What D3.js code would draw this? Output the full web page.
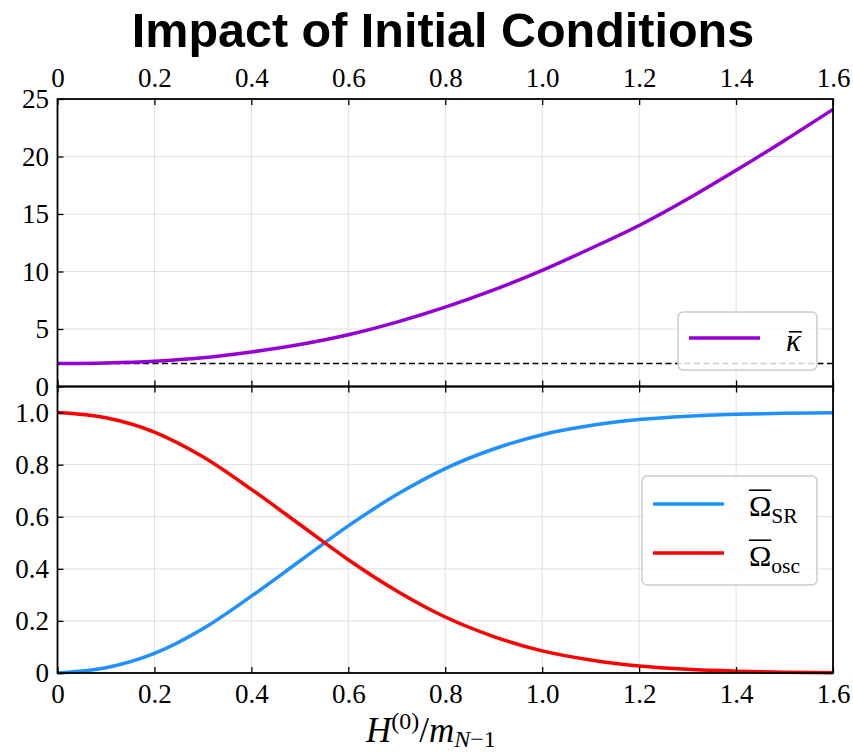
<!DOCTYPE html>
<html>
<head>
<meta charset="utf-8">
<script src="https://cdn.jsdelivr.net/npm/d3@7/dist/d3.min.js"></script>
<style>
  html, body { margin: 0; padding: 0; background: #fff; }
  svg { display: block; }
</style>
</head>
<body>
<svg id="chart" width="853" height="753"></svg>
<script>
// Initial Hubble rate in units of m_{N-1}
const H_VALUES = [0.0, 0.1, 0.2, 0.3, 0.4, 0.5, 0.6, 0.7, 0.8, 0.9, 1.0, 1.1, 1.2, 1.3, 1.4, 1.5, 1.6];
// Mean kappa parameter
const KAPPA = [2.0, 2.05, 2.2, 2.5, 3.0, 3.65, 4.5, 5.6, 6.9, 8.4, 10.1, 12.0, 14.0, 16.3, 18.8, 21.4, 24.1];
// Slow-roll and oscillating energy fractions
const OMEGA_SR = [0.0, 0.02, 0.075, 0.17, 0.295, 0.43, 0.565, 0.685, 0.785, 0.86, 0.915, 0.95, 0.973, 0.986, 0.993, 0.997, 0.999];
const OMEGA_OSC = [1.0, 0.98, 0.925, 0.83, 0.705, 0.57, 0.435, 0.315, 0.215, 0.14, 0.085, 0.05, 0.027, 0.014, 0.007, 0.003, 0.001];
// Reference level for kappa
const KAPPA_REF = 2;

const X_TICKS = [0, 0.2, 0.4, 0.6, 0.8, 1.0, 1.2, 1.4, 1.6];
const KAPPA_TICKS = [0, 5, 10, 15, 20, 25];
const OMEGA_TICKS = [0, 0.2, 0.4, 0.6, 0.8, 1.0];

const COLORS = { kappa: "#9400D3", sr: "#1E90FF", osc: "#FF0000" };
const SERIF = "'Liberation Serif', 'Times New Roman', serif";

const svg = d3.select("#chart");
svg.append("rect").attr("width", 853).attr("height", 753).attr("fill", "#fff");

const left = 57.5, right = 833;
const topY = 99, midY = 386.5, botY = 673;

const x = d3.scaleLinear().domain([0, 1.6]).range([left, right]);
const yK = d3.scaleLinear().domain([0, 25]).range([midY, topY]);
const yO = d3.scaleLinear().domain([0, 1.1]).range([botY, midY]);

const fmtDec = d => d === 0 ? "0" : d3.format(".1f")(d);
const fmtInt = d => d3.format("d")(d);

// Title
svg.append("text")
  .attr("x", 443).attr("y", 47)
  .attr("text-anchor", "middle")
  .style("font-family", "'Liberation Sans', Arial, sans-serif")
  .style("font-weight", "bold")
  .style("font-size", "48.5px")
  .text("Impact of Initial Conditions");

function grid(g, yScale, yTicks, y0, y1) {
  g.selectAll("line.gx").data(X_TICKS).join("line")
    .attr("x1", d => x(d)).attr("x2", d => x(d))
    .attr("y1", y0).attr("y2", y1)
    .attr("stroke", "#e0e0e0").attr("stroke-width", 1);
  g.selectAll("line.gy").data(yTicks).join("line")
    .attr("x1", left).attr("x2", right)
    .attr("y1", d => yScale(d)).attr("y2", d => yScale(d))
    .attr("stroke", "#e0e0e0").attr("stroke-width", 1);
}

grid(svg.append("g"), yK, KAPPA_TICKS, topY, midY);
grid(svg.append("g"), yO, OMEGA_TICKS, midY, botY);

// Reference dashed line
svg.append("line")
  .attr("x1", x(0)).attr("x2", x(1.6))
  .attr("y1", yK(KAPPA_REF)).attr("y2", yK(KAPPA_REF))
  .attr("stroke", "#000").attr("stroke-width", 1.5)
  .attr("stroke-dasharray", "6,3.5");

const line = (ys, yScale) => d3.line()
  .x((d, i) => x(H_VALUES[i]))
  .y(d => yScale(d))
  .curve(d3.curveMonotoneX)(ys);

svg.append("path").attr("d", line(KAPPA, yK))
  .attr("fill", "none").attr("stroke", COLORS.kappa).attr("stroke-width", 3.5);
svg.append("path").attr("d", line(OMEGA_SR, yO))
  .attr("fill", "none").attr("stroke", COLORS.sr).attr("stroke-width", 3.5);
svg.append("path").attr("d", line(OMEGA_OSC, yO))
  .attr("fill", "none").attr("stroke", COLORS.osc).attr("stroke-width", 3.5);

// Axes with inward ticks
function axis(gen, tx, ty, labels) {
  const g = svg.append("g").attr("transform", `translate(${tx},${ty})`).call(gen);
  g.select(".domain").remove();
  g.selectAll(".tick line").attr("stroke", "#000").attr("stroke-width", 1.3);
  if (!labels) g.selectAll("text").remove();
  g.selectAll("text")
    .style("font-family", SERIF)
    .style("font-size", "27px")
    .attr("fill", "#000");
  return g;
}

axis(d3.axisTop(x).tickValues(X_TICKS).tickFormat(fmtDec).tickSizeInner(-6).tickSizeOuter(0).tickPadding(12), 0, topY, true);
axis(d3.axisBottom(x).tickValues(X_TICKS).tickSizeInner(-6).tickSizeOuter(0), 0, midY, false);
axis(d3.axisTop(x).tickValues(X_TICKS).tickSizeInner(-6).tickSizeOuter(0), 0, midY, false);
axis(d3.axisBottom(x).tickValues(X_TICKS).tickFormat(fmtDec).tickSizeInner(-6).tickSizeOuter(0).tickPadding(11), 0, botY, true);
axis(d3.axisLeft(yK).tickValues(KAPPA_TICKS).tickFormat(fmtInt).tickSizeInner(-6).tickSizeOuter(0).tickPadding(8.5), left, 0, true);
axis(d3.axisLeft(yO).tickValues(OMEGA_TICKS).tickFormat(fmtDec).tickSizeInner(-6).tickSizeOuter(0).tickPadding(8.5), left, 0, true);

// Spines
svg.append("rect").attr("x", left).attr("y", topY).attr("width", right - left).attr("height", midY - topY)
  .attr("fill", "none").attr("stroke", "#000").attr("stroke-width", 1.8);
svg.append("rect").attr("x", left).attr("y", midY).attr("width", right - left).attr("height", botY - midY)
  .attr("fill", "none").attr("stroke", "#000").attr("stroke-width", 1.8);

// Text with a bar over its first glyph
function barredLabel(g, lx, ly, main, sub, italic, size) {
  const t = g.append("text").attr("x", lx).attr("y", ly)
    .style("font-family", SERIF).style("font-size", size + "px").attr("fill", "#000");
  const m = t.append("tspan").text(main).style("font-style", italic ? "italic" : "normal");
  if (sub) {
    t.append("tspan").text(sub).attr("dy", 7).style("font-size", (size * 0.72) + "px");
  }
  const w = m.node().getComputedTextLength();
  const capTop = ly - size * (italic ? 0.62 : 0.86);
  g.append("line")
    .attr("x1", lx + (italic ? 3 : 0)).attr("x2", lx + w + (italic ? 1 : 0))
    .attr("y1", capTop).attr("y2", capTop)
    .attr("stroke", "#000").attr("stroke-width", 1.6);
}

// Legend: kappa
const lg1 = svg.append("g");
lg1.append("rect").attr("x", 678).attr("y", 312).attr("width", 139).attr("height", 58)
  .attr("rx", 5).attr("fill", "#fff").attr("fill-opacity", 0.8)
  .attr("stroke", "#cccccc").attr("stroke-width", 1.5);
lg1.append("line").attr("x1", 689).attr("x2", 760).attr("y1", 338).attr("y2", 338)
  .attr("stroke", COLORS.kappa).attr("stroke-width", 3.5);
barredLabel(lg1, 786, 351, "κ", null, true, 31);

// Legend: energy fractions
const lg2 = svg.append("g");
lg2.append("rect").attr("x", 642).attr("y", 476).attr("width", 175).attr("height", 109)
  .attr("rx", 5).attr("fill", "#fff").attr("fill-opacity", 0.8)
  .attr("stroke", "#cccccc").attr("stroke-width", 1.5);
lg2.append("line").attr("x1", 653).attr("x2", 724).attr("y1", 504).attr("y2", 504)
  .attr("stroke", COLORS.sr).attr("stroke-width", 3.5);
lg2.append("line").attr("x1", 653).attr("x2", 724).attr("y1", 553).attr("y2", 553)
  .attr("stroke", COLORS.osc).attr("stroke-width", 3.5);
barredLabel(lg2, 749, 516, "Ω", "SR", false, 30);
barredLabel(lg2, 749, 566, "Ω", "osc", false, 30);

// X-axis label: H^(0)/m_{N-1}
const xl = svg.append("text").attr("x", 366).attr("y", 742)
  .style("font-family", SERIF).style("font-size", "35px").attr("fill", "#000");
xl.append("tspan").text("H").style("font-style", "italic");
xl.append("tspan").text("(0)").attr("dy", -13).style("font-size", "24px");
xl.append("tspan").text("/").attr("dy", 13);
xl.append("tspan").text("m").style("font-style", "italic");
xl.append("tspan").text("N").attr("dy", 5).style("font-size", "24px").style("font-style", "italic");
xl.append("tspan").text("−1").style("font-size", "24px");
</script>
</body>
</html>
